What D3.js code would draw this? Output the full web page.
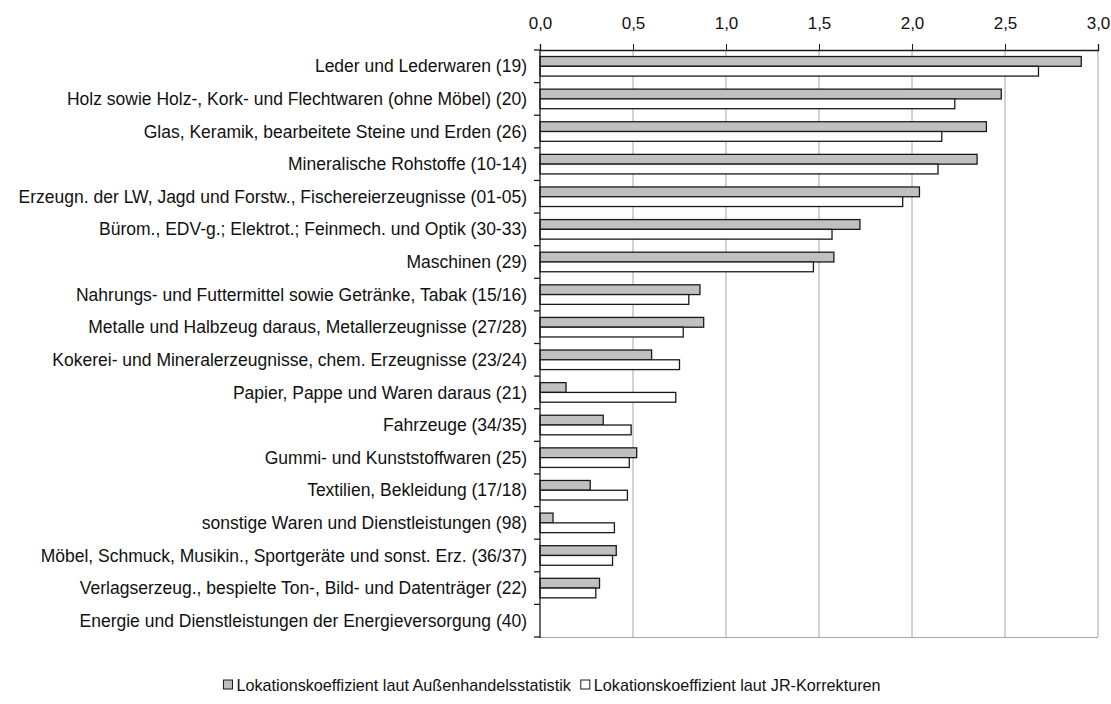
<!DOCTYPE html>
<html>
<head>
<meta charset="utf-8">
<script src="https://cdn.jsdelivr.net/npm/d3@7"></script>
<style>
  html, body { margin: 0; padding: 0; background: #fff; }
  svg { display: block; font-family: "Liberation Sans", Arial, sans-serif; }
</style>
</head>
<body>
<svg id="chart" width="1111" height="704"></svg>
<script>
// Warengruppen (Wirtschaftszweige) in Darstellungsreihenfolge
const categories = [
  "Leder und Lederwaren (19)",
  "Holz sowie Holz-, Kork- und Flechtwaren (ohne Möbel) (20)",
  "Glas, Keramik, bearbeitete Steine und Erden (26)",
  "Mineralische Rohstoffe (10-14)",
  "Erzeugn. der LW, Jagd und Forstw., Fischereierzeugnisse (01-05)",
  "Bürom., EDV-g.; Elektrot.; Feinmech. und Optik (30-33)",
  "Maschinen (29)",
  "Nahrungs- und Futtermittel sowie Getränke, Tabak (15/16)",
  "Metalle und Halbzeug daraus, Metallerzeugnisse (27/28)",
  "Kokerei- und Mineralerzeugnisse, chem. Erzeugnisse (23/24)",
  "Papier, Pappe und Waren daraus (21)",
  "Fahrzeuge (34/35)",
  "Gummi- und Kunststoffwaren (25)",
  "Textilien, Bekleidung (17/18)",
  "sonstige Waren und Dienstleistungen (98)",
  "Möbel, Schmuck, Musikin., Sportgeräte und sonst. Erz. (36/37)",
  "Verlagserzeug., bespielte Ton-, Bild- und Datenträger (22)",
  "Energie und Dienstleistungen der Energieversorgung (40)"
];

// Lokationskoeffizient laut Außenhandelsstatistik
const aussenhandel = [2.91, 2.48, 2.40, 2.35, 2.04, 1.72, 1.58, 0.86, 0.88, 0.60, 0.14, 0.34, 0.52, 0.27, 0.07, 0.41, 0.32, 0];
// Lokationskoeffizient laut JR-Korrekturen
const jrKorrektur = [2.68, 2.23, 2.16, 2.14, 1.95, 1.57, 1.47, 0.80, 0.77, 0.75, 0.73, 0.49, 0.48, 0.47, 0.40, 0.39, 0.30, 0];

const seriesNames = [
  "Lokationskoeffizient laut Außenhandelsstatistik",
  "Lokationskoeffizient laut JR-Korrekturen"
];
const tickValues = [0, 0.5, 1.0, 1.5, 2.0, 2.5, 3.0];

const fills = ["#c0c0c0", "#ffffff"];
const svg = d3.select("#chart");
const margin = { top: 50, left: 540, right: 13, bottom: 67 };
const W = 1111, H = 704;
const innerW = W - margin.left - margin.right;
const innerH = H - margin.top - margin.bottom;

const x = d3.scaleLinear().domain([0, 3]).range([0, innerW]);
const y = d3.scaleBand().domain(categories).range([0, innerH]).paddingInner(0.4).paddingOuter(0.2);
const ySub = d3.scaleBand().domain([0, 1]).range([0, y.bandwidth()]);

const g = svg.append("g").attr("transform", `translate(${margin.left},${margin.top})`);

// vertical gridlines
g.append("g").selectAll("line").data(tickValues.slice(1)).join("line")
  .attr("x1", d => x(d)).attr("x2", d => x(d))
  .attr("y1", 0).attr("y2", innerH)
  .attr("stroke", "#a6a6a6").attr("stroke-width", 1);

// bottom border of plot area
g.append("line").attr("x1", 0).attr("x2", innerW).attr("y1", innerH + 0.5).attr("y2", innerH + 0.5)
  .attr("stroke", "#a6a6a6");

// bars
const rows = categories.map((c, i) => ({ c, vals: [aussenhandel[i], jrKorrektur[i]] }));
const rowG = g.selectAll("g.row").data(rows).join("g").attr("class", "row")
  .attr("transform", d => `translate(0,${y(d.c)})`);
rowG.selectAll("rect").data(d => d.vals.map((v, k) => ({ v, k }))).join("rect")
  .filter(d => d.v > 0)
  .attr("x", 0)
  .attr("y", d => ySub(d.k))
  .attr("width", d => x(d.v))
  .attr("height", ySub.bandwidth())
  .attr("fill", d => fills[d.k])
  .attr("stroke", "#1a1a1a")
  .attr("stroke-width", 1.3);

// top axis
const xAxis = d3.axisTop(x).tickValues(tickValues).tickSize(6).tickPadding(15)
  .tickFormat(d => d3.format(".1f")(d).replace(".", ","));
const ax = g.append("g").call(xAxis);
ax.select(".domain").attr("stroke", "#1a1a1a").attr("stroke-width", 1.3);
ax.selectAll(".tick line").attr("stroke", "#1a1a1a");
ax.selectAll(".tick text").attr("font-size", 17).attr("fill", "#111").attr("font-family", "Liberation Sans, Arial, sans-serif");

// left category axis: tick marks at band boundaries
const step = innerH / categories.length;
const bounds = d3.range(categories.length + 1).map(i => i * step);
g.append("g").selectAll("line").data(bounds).join("line")
  .attr("x1", -6).attr("x2", 0).attr("y1", d => d).attr("y2", d => d)
  .attr("stroke", "#1a1a1a").attr("stroke-width", 1.3);
g.append("line").attr("x1", 0).attr("x2", 0).attr("y1", 0).attr("y2", innerH + 1)
  .attr("stroke", "#1a1a1a").attr("stroke-width", 1.3);

g.append("g").selectAll("text").data(categories).join("text")
  .attr("x", -13)
  .attr("y", d => y(d) + y.bandwidth() / 2)
  .attr("dy", "0.35em")
  .attr("text-anchor", "end")
  .attr("font-size", 17.5)
  .attr("fill", "#111")
  .text(d => d);

// legend
const legend = svg.append("g").attr("transform", "translate(0,685)");
const items = legend.selectAll("g").data(seriesNames).join("g");
items.append("rect").attr("width", 9).attr("height", 9).attr("y", -5)
  .attr("fill", (d, i) => fills[i]).attr("stroke", "#1a1a1a").attr("stroke-width", 1);
items.append("text").attr("x", 13).attr("dy", "0.35em").attr("font-size", 16.2).attr("fill", "#111").text(d => d);
// lay out legend items centered horizontally
let widths = [];
items.each(function () { widths.push(this.getBBox().width); });
const gap = 9;
const total = d3.sum(widths) + gap * (widths.length - 1);
let cx = 552 - total / 2;
items.attr("transform", (d, i) => {
  const t = `translate(${cx},0)`;
  cx += widths[i] + gap;
  return t;
});
</script>
</body>
</html>
